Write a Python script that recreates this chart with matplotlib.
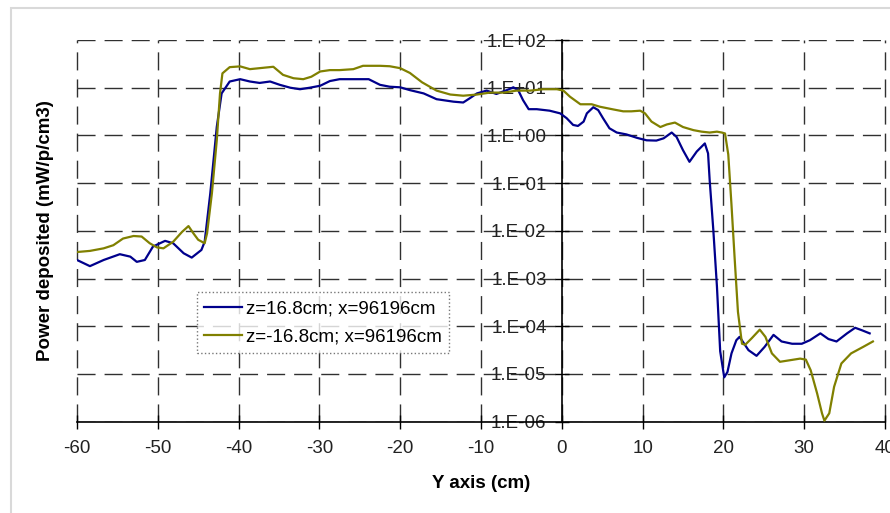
import matplotlib
matplotlib.use("Agg")
import matplotlib.pyplot as plt
import matplotlib.ticker as ticker
from matplotlib.patches import Rectangle

plt.rcParams["font.family"] = ["Liberation Sans", "DejaVu Sans"]

# z = 16.8 cm ; x = 96196 cm
y_pos = [-60.0, -58.4, -56.7, -54.7, -53.4, -52.6, -51.6, -50.6, -49.1, -48.1,
         -46.8, -45.8, -44.6, -44.2, -43.5, -42.7, -42.1, -41.1, -39.8, -38.6,
         -37.4, -36.1, -34.9, -33.6, -32.4, -31.2, -29.9, -28.7, -27.5, -26.2,
         -23.9, -22.5, -21.3, -20.0, -18.8, -17.1, -15.5, -13.4, -12.2, -11.4,
         -10.5, -9.3, -8.1, -6.8, -6.0, -5.4, -4.8, -4.1, -3.1, -1.5,
         -0.2, 0.6, 1.4, 2.0, 2.7, 3.1, 3.9, 4.5, 5.1, 5.9,
         6.8, 8.0, 9.3, 10.5, 11.7, 12.6, 13.6, 14.2, 15.0, 15.8,
         16.7, 17.7, 18.1, 18.3, 18.75, 19.2, 19.6, 20.1, 20.5, 21.0,
         21.6, 22.0, 23.1, 24.1, 25.1, 26.2, 27.2, 28.5, 29.7, 30.7,
         32.0, 33.0, 34.0, 35.3, 36.3, 37.1, 38.1]
p_pos = [2.45e-3, 1.82e-3, 2.45e-3, 3.24e-3, 2.88e-3, 2.24e-3, 2.45e-3, 4.68e-3, 6.17e-3, 5.5e-3,
         3.39e-3, 2.75e-3, 3.98e-3, 5.9e-3, 6.17e-2, 1.51, 7.6, 13.5, 15.1, 13.5,
         12.6, 13.5, 11.5, 10.0, 9.3, 10.0, 11.0, 13.8, 15.1, 15.1,
         15.1, 11.5, 10.5, 10.2, 8.9, 7.6, 5.75, 5.1, 4.9, 6.0,
         7.6, 8.7, 7.4, 8.9, 10.2, 8.9, 5.5, 3.55, 3.55, 3.3,
         2.9, 2.3, 1.66, 1.58, 1.95, 2.9, 3.9, 3.4, 2.3, 1.41,
         1.15, 1.05, 0.89, 0.79, 0.78, 0.87, 1.15, 0.93, 0.49, 0.28,
         0.46, 0.68, 0.42, 0.115, 1.05e-2, 6.8e-4, 3.0e-5, 8.5e-6, 1.1e-5, 2.7e-5,
         5.1e-5, 6.0e-5, 3.16e-5, 2.4e-5, 3.7e-5, 6.6e-5, 4.8e-5, 4.3e-5, 4.3e-5, 5.1e-5,
         7.1e-5, 5.4e-5, 4.8e-5, 7.1e-5, 9.3e-5, 8.3e-5, 7.1e-5]

# z = -16.8 cm ; x = 96196 cm
y_neg = [-60.0, -58.4, -56.7, -55.5, -54.3, -53.0, -52.0, -51.0, -50.1, -49.3,
         -48.1, -47.0, -46.2, -45.6, -45.0, -44.2, -43.9, -43.3, -42.7, -42.3,
         -42.0, -41.1, -39.8, -38.6, -37.4, -35.7, -34.5, -33.2, -32.0, -31.0,
         -29.9, -28.7, -27.5, -25.8, -24.6, -22.5, -21.3, -20.0, -18.8, -17.3,
         -15.5, -13.8, -12.2, -10.5, -8.9, -7.2, -5.6, -3.9, -2.3, -0.6,
         0.2, 1.0, 2.3, 3.7, 4.7, 6.4, 7.6, 8.6, 9.7, 10.3,
         11.1, 12.2, 13.0, 14.0, 15.0, 16.3, 17.3, 18.3, 19.2, 19.8,
         20.2, 20.6, 21.0, 21.4, 21.8, 22.3, 22.7, 23.5, 24.5, 25.2,
         26.0, 27.0, 28.3, 29.5, 30.2, 30.8, 31.6, 32.2, 32.5, 33.1,
         33.7, 34.6, 35.8, 37.3, 38.5]
p_neg = [3.6e-3, 3.8e-3, 4.3e-3, 5.0e-3, 6.9e-3, 7.8e-3, 7.6e-3, 5.5e-3, 4.5e-3, 4.3e-3,
         5.9e-3, 9.5e-3, 1.26e-2, 8.9e-3, 6.5e-3, 5.5e-3, 8.9e-3, 6.2e-2, 0.79, 7.6,
         20.0, 27.0, 28.0, 24.5, 25.7, 27.5, 18.6, 15.8, 15.1, 17.0,
         21.9, 23.4, 23.4, 24.5, 28.8, 28.8, 28.2, 25.7, 20.4, 13.0,
         8.7, 7.2, 6.8, 7.2, 7.9, 7.9, 8.7, 8.7, 9.3, 9.3,
         8.7, 6.5, 4.5, 4.5, 4.0, 3.5, 3.2, 3.2, 3.3, 2.9,
         1.95, 1.5, 1.7, 1.86, 1.5, 1.29, 1.2, 1.15, 1.2, 1.15,
         1.1, 0.4, 3.5e-2, 2.5e-3, 2.0e-4, 4.3e-5, 4.1e-5, 5.6e-5, 8.5e-5, 6.0e-5,
         2.7e-5, 1.8e-5, 1.95e-5, 2.1e-5, 2.0e-5, 1.2e-5, 3.9e-6, 1.5e-6, 1.05e-6, 1.5e-6,
         5.4e-6, 1.66e-5, 2.7e-5, 3.7e-5, 4.8e-5]

x_ticks = [-60, -50, -40, -30, -20, -10, 0, 10, 20, 30, 40]
p_ticks = [1e-6, 1e-5, 1e-4, 1e-3, 1e-2, 1e-1, 1e0, 1e1, 1e2]
p_tick_labels = ["1.E-06", "1.E-05", "1.E-04", "1.E-03", "1.E-02",
                 "1.E-01", "1.E+00", "1.E+01", "1.E+02"]

fig = plt.figure(figsize=(8.9, 5.13), dpi=100)
ax = fig.add_axes([0.0865, 0.178, 0.9079, 0.744])

# light frame of the chart area
fig.patches.append(Rectangle((11 / 890, -0.05), 1.0, 1.0344, transform=fig.transFigure,
                             fill=False, edgecolor="#d9d9d9", linewidth=1.5))

ax.plot(y_pos, p_pos, color="#00008c", linewidth=1.6, label="z=16.8cm; x=96196cm", zorder=3)
ax.plot(y_neg, p_neg, color="#808000", linewidth=1.6, label="z=-16.8cm; x=96196cm", zorder=3)

ax.set_yscale("log")
ax.set_xlim(-60, 40)
ax.set_ylim(1e-6, 1e2)
ax.set_xticks(x_ticks)
ax.set_xticklabels([str(v) for v in x_ticks])
ax.yaxis.set_major_locator(ticker.FixedLocator(p_ticks))
ax.yaxis.set_minor_locator(ticker.NullLocator())
ax.set_yticklabels(p_tick_labels)

# Excel-like dashed grid
ax.grid(True, color="#303030", linewidth=1.0, linestyle=(0, (13, 6.5)))
for gl in ax.get_xgridlines() + ax.get_ygridlines():
    gl.set_clip_on(False)

# axes: bottom at 1e-6, vertical axis through x = 0
ax.spines["top"].set_visible(False)
ax.spines["right"].set_visible(False)
ax.spines["left"].set_position(("data", 0))
ax.spines["left"].set_linewidth(1.2)
ax.spines["bottom"].set_linewidth(1.2)
ax.tick_params(axis="both", direction="inout", length=10, width=1.0, colors="black",
               labelsize=13.5, labelcolor="#222222")
ax.tick_params(axis="x", pad=8)
ax.tick_params(axis="y", pad=6)

ax.set_xlabel("Y axis (cm)", fontsize=13.5, fontweight="bold")
ax.set_ylabel("Power deposited (mW/p/cm3)", fontsize=13.5, fontweight="bold")
ax.xaxis.set_label_coords(0.5, -0.14)
ax.yaxis.set_label_coords(-0.029, 0.5)

leg = ax.legend(loc="lower left", bbox_to_anchor=(0.1485, 0.18), borderaxespad=0,
                fontsize=13.5, frameon=True, fancybox=False, handlelength=2.0,
                handletextpad=0.2, labelspacing=0.6, borderpad=0.4)
leg.get_frame().set_edgecolor("#555555")
leg.get_frame().set_linestyle(":")
leg.get_frame().set_linewidth(1.0)
leg.set_zorder(5)

fig.savefig("out.png", dpi=100)
